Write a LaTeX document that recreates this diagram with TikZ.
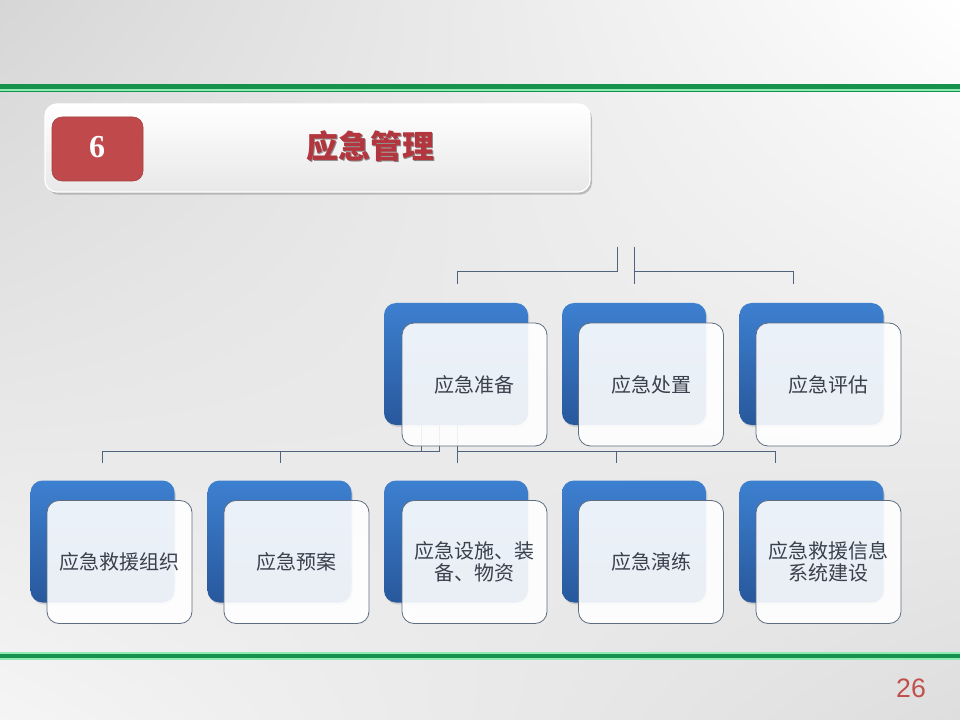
\documentclass[tikz,border=0pt]{standalone}
\usepackage{fontspec}
\setmainfont{Liberation Sans}
\newfontfamily\cjk{Noto Sans CJK SC}
\newfontfamily\numserif{Liberation Serif}
\usetikzlibrary{shadows,shadings}
\definecolor{gdark}{HTML}{17924C}
\definecolor{glight}{HTML}{8EEBB4}
\definecolor{bluetop}{HTML}{3D80D0}
\definecolor{bluebot}{HTML}{28589C}
\definecolor{boxline}{HTML}{5E6E80}
\definecolor{linecol}{HTML}{4F647C}
\definecolor{txtcol}{HTML}{3A404C}
\definecolor{redbox}{HTML}{C0494B}
\definecolor{titlered}{HTML}{B3353D}
\definecolor{pagered}{HTML}{C0504D}
\begin{document}
\begin{tikzpicture}[x=0.75pt,y=-0.75pt,
  backbox/.style={rounded corners=9pt, minimum width=108pt, minimum height=91.5pt,
    inner sep=0pt, outer sep=0pt, top color=bluetop, bottom color=bluebot,
    drop shadow={shadow xshift=1pt, shadow yshift=-1.5pt, opacity=0.25}},
  frontbox/.style={rounded corners=9pt, minimum width=108.75pt, minimum height=92.25pt,
    inner sep=0pt, outer sep=0pt, fill=white, fill opacity=0.9, text opacity=1,
    draw=boxline, line width=0.6pt, align=center, text=txtcol,
    font=\cjk\fontsize{15pt}{16.5pt}\selectfont},
  conn/.style={draw=linecol, line width=0.75pt}]
\useasboundingbox (0,0) rectangle (960,720);
\shade[upper left=black!16, upper right=white, lower left=white!96!black, lower right=black!13]
  (0,0) rectangle (960,720);
% green lines
\fill[gdark] (0,84.5) rectangle (960,89);
\fill[glight] (0,89) rectangle (960,91);
\fill[gdark] (0,91) rectangle (960,92.2);
\fill[glight] (0,651.5) rectangle (960,653.5);
\fill[gdark] (0,653.5) rectangle (960,658);
\fill[glight] (0,658) rectangle (960,660);
% title bar
\node[rounded corners=9pt, minimum width=408.75pt, minimum height=66pt, inner sep=0pt,
  top color=white, bottom color=black!9, draw=white, line width=1pt,
  drop shadow={shadow xshift=1.5pt, shadow yshift=-2pt, opacity=0.45}]
  (bar) at (317.5,148) {};
\node[rounded corners=7.5pt, minimum width=68.25pt, minimum height=48pt, inner sep=0pt,
  fill=redbox, draw=redbox!85!black, line width=0.4pt] (num) at (97.5,149) {};
\node[text=white, font=\numserif\bfseries\fontsize{24pt}{24pt}\selectfont] (numtxt) at (97,147) {6};
\node[text=black!45, font=\cjk\bfseries\fontsize{24pt}{24pt}\selectfont] (titleshadow) at (371.5,147.5) {应急管理};
\node[text=titlered, font=\cjk\bfseries\fontsize{24pt}{24pt}\selectfont] (title) at (370,146) {应急管理};
% connector coordinates
\coordinate (t1) at (617,247); \coordinate (t2) at (634,247);
\coordinate (a1) at (457,284); \coordinate (a2) at (634,284); \coordinate (a3) at (793,284);
\coordinate (s1) at (421,425); \coordinate (s2) at (439,425); \coordinate (s3) at (457,425);
\coordinate (b1) at (102,463); \coordinate (b2) at (280,463); \coordinate (b3) at (457,463);
\coordinate (b4) at (616,463); \coordinate (b5) at (775,463);
\draw[conn] (t1) |- (a1 |- 0,272) -- (a1);
\draw[conn] (t2) -- (a2);
\draw[conn] (t2 |- 0,272) -| (a3);
\draw[conn] (s1) |- (b1 |- 0,451) -- (b1);
\draw[conn] (s2) |- (s1 |- 0,451);
\draw[conn] (b2 |- 0,451) -- (b2);
\draw[conn] (s3) -- (b3);
\draw[conn] (s3 |- 0,451) -| (b5);
\draw[conn] (b4 |- 0,451) -- (b4);
% upper row
\node[backbox] (u1b) at (456,364) {};
\node[backbox] (u2b) at (634,364) {};
\node[backbox] (u3b) at (811.5,364) {};
\node[frontbox] (u1) at (474.5,384.5) {应急准备};
\node[frontbox] (u2) at (651,384.5) {应急处置};
\node[frontbox] (u3) at (828.5,384.5) {应急评估};
% lower row
\node[backbox] (l1b) at (102.5,541.5) {};
\node[backbox] (l2b) at (279.5,541.5) {};
\node[backbox] (l3b) at (456,541.5) {};
\node[backbox] (l4b) at (634,541.5) {};
\node[backbox] (l5b) at (811.5,541.5) {};
\node[frontbox] (l1) at (119.5,562) {应急救援组织};
\node[frontbox] (l2) at (296.5,562) {应急预案};
\node[frontbox] (l3) at (474.5,562) {应急设施、装\\备、物资};
\node[frontbox] (l4) at (651,562) {应急演练};
\node[frontbox] (l5) at (828.5,562) {应急救援信息\\系统建设};
% page number
\node[text=pagered, font=\fontsize{20pt}{20pt}\selectfont] (page) at (911,688) {26};
\end{tikzpicture}
\end{document}
